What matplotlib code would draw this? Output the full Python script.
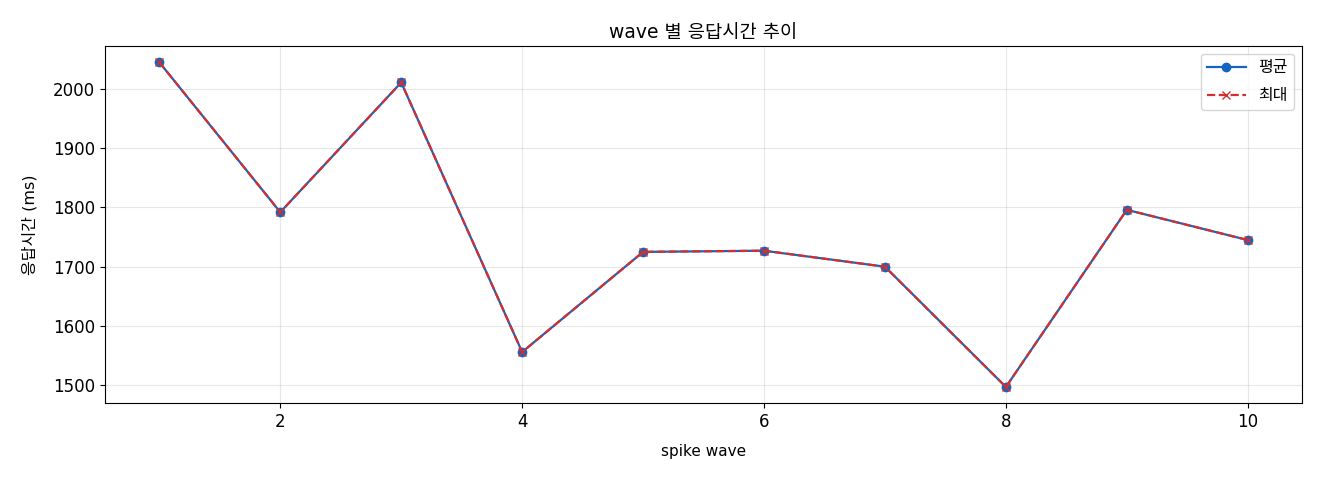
import matplotlib
matplotlib.use("Agg")
import matplotlib.pyplot as plt

plt.rcParams['font.family'] = ['DejaVu Sans', 'Noto Sans CJK KR']
plt.rcParams['axes.unicode_minus'] = False

waves = [1, 2, 3, 4, 5, 6, 7, 8, 9, 10]
avg_ms = [2045, 1792, 2011, 1556, 1725, 1727, 1700, 1497, 1796, 1745]
max_ms = [2045, 1792, 2011, 1556, 1725, 1727, 1700, 1497, 1796, 1745]

fig, ax = plt.subplots(figsize=(13.2, 4.8), dpi=100)
ax.plot(waves, avg_ms, marker='o', color='#1565C0', linestyle='-', label='평균',
        markersize=6, linewidth=1.6)
ax.plot(waves, max_ms, marker='x', color='#D32F2F', linestyle='--', label='최대',
        markersize=6, linewidth=1.6)
ax.set_title('wave 별 응답시간 추이', fontsize=13.5, pad=6)
ax.set_xlabel('spike wave', fontsize=11, labelpad=9.5)
ax.set_ylabel('응답시간 (ms)', fontsize=11.5, labelpad=11)
ax.tick_params(labelsize=12)
ax.grid(True, alpha=0.3)
ax.legend(loc='upper right', fontsize=11.5, labelspacing=0.8, handlelength=2.4)
fig.subplots_adjust(left=0.0795, right=0.9865, top=0.904, bottom=0.16)
fig.savefig('out.png', dpi=100)
